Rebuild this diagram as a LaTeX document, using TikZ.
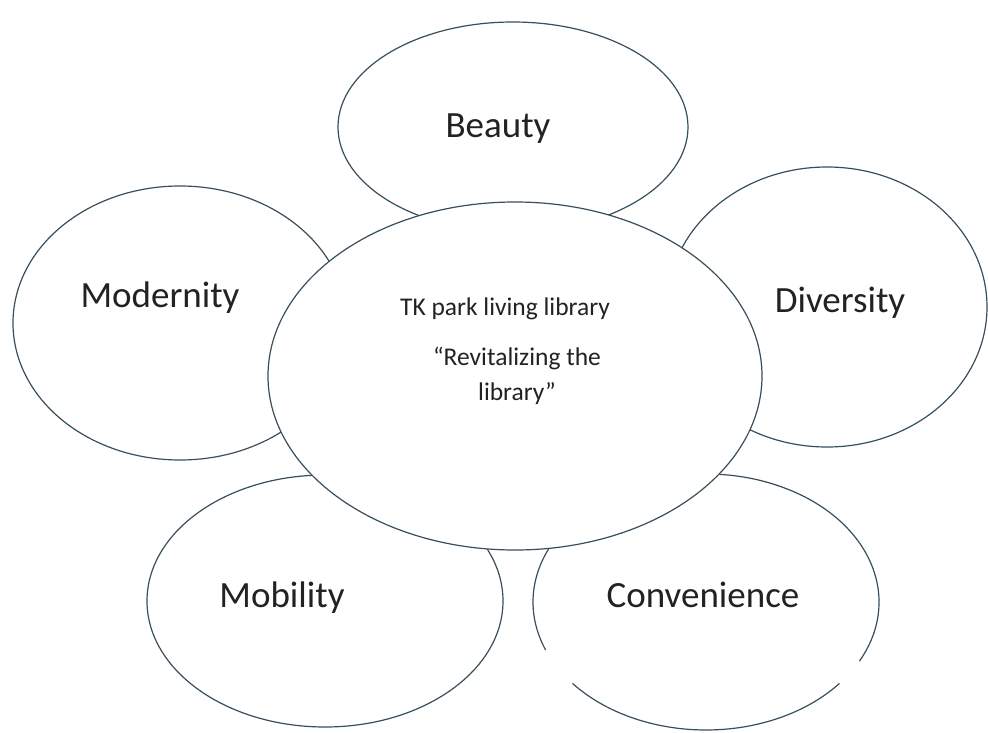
\documentclass[tikz,border=0pt]{standalone}
\usepackage{fontspec}
\setmainfont{Carlito}
\usepackage{tikz}
\usetikzlibrary{shapes.geometric}
\usepackage{xcolor}
\definecolor{rimcol}{RGB}{55,78,92}
\definecolor{inkcol}{RGB}{34,34,34}

\begin{document}
\begin{tikzpicture}[x=1pt,y=1pt,
    petal/.style={ellipse, draw=rimcol, line width=1.2pt, inner sep=0pt, outer sep=0pt},
    word/.style={anchor=base, text=inkcol, font=\fontsize{37}{40}\selectfont},
    hubword/.style={anchor=base, text=inkcol, font=\fontsize{25.5}{35}\selectfont, align=center}]
          \useasboundingbox (0,0) rectangle (988,-733);
          % outer ellipses
          \node[petal, minimum width=350pt, minimum height=210pt] (beauty) at (513,-127) {};
          \node[petal, minimum width=334pt, minimum height=274pt] (modernity) at (180,-323) {};
          \node[petal, minimum width=320pt, minimum height=280pt] (diversity) at (827,-307) {};
          \node[petal, minimum width=356pt, minimum height=252pt] (mobility) at (325,-601) {};
          \node[petal, draw=none, minimum width=346pt, minimum height=256pt] (convenience) at (706,-602) {};
          % convenience is broken twice near the bottom
          \draw[rimcol, line width=1.2pt] ([shift={(219.5:173pt and 128pt)}]convenience.center)
                arc[start angle=219.5, end angle=320.5, x radius=173pt, y radius=128pt];
          \draw[rimcol, line width=1.2pt] ([shift={(332.5:173pt and 128pt)}]convenience.center)
                arc[start angle=332.5, end angle=562, x radius=173pt, y radius=128pt];
          % centre ellipse on top
          \node[petal, fill=white, minimum width=494pt, minimum height=348pt] (hub) at (515,-376) {};
          \node[word] (beautytext) at (498,-138) {Beauty};
          \node[word] (modernitytext) at (160,-307) {Modernity};
          \node[word] (diversitytext) at (840,-312) {Diversity};
          \node[word] (mobilitytext) at (282,-607) {Mobility};
          \node[word] (conveniencetext) at (703,-607) {Convenience};
          \node[hubword] (hubtitle) at (505,-315) {TK park living library};
          \node[hubword] (hubmotto) at (517,-400) {“Revitalizing the\\ library”};
        \end{tikzpicture}
\end{document}
